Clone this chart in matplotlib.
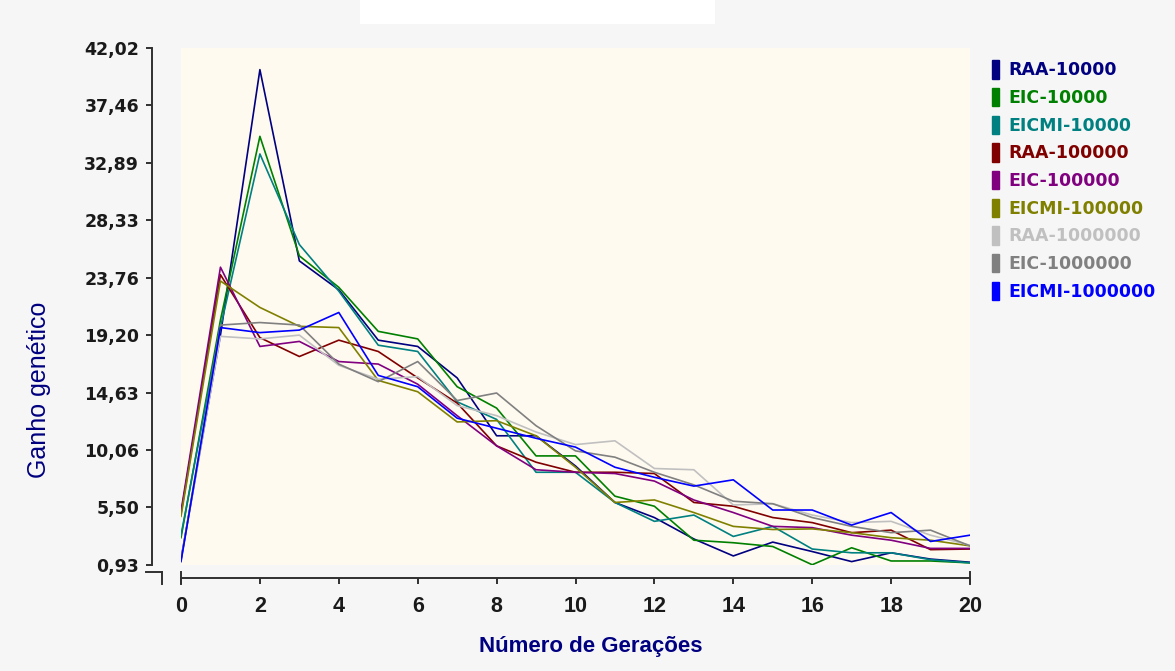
import matplotlib
matplotlib.use("Agg")
import matplotlib.pyplot as plt
from matplotlib.lines import Line2D
from matplotlib.patches import Patch, Rectangle

# ganho genético por geração, uma lista por cenário
geracoes = list(range(21))

raa_10000 = [1.4, 19.2, 40.3, 25.1, 22.8, 18.8, 18.3, 15.8, 11.2, 11.2, 8.8,
             5.9, 4.7, 3.0, 1.65, 2.75, 2.0, 1.2, 1.9, 1.4, 1.15]
eic_10000 = [3.1, 20.4, 35.0, 25.5, 23.0, 19.5, 18.9, 15.1, 13.4, 9.6, 9.6,
             6.4, 5.6, 2.9, 2.7, 2.4, 0.95, 2.3, 1.25, 1.25, 1.1]
eicmi_10000 = [3.3, 19.8, 33.6, 26.4, 22.7, 18.4, 17.9, 13.9, 12.5, 8.3, 8.3,
               5.9, 4.4, 4.9, 3.2, 4.0, 2.2, 1.9, 1.9, 1.35, 1.1]
raa_100000 = [5.0, 24.0, 19.0, 17.5, 18.8, 17.9, 15.8, 13.8, 10.4, 9.1, 8.3,
              8.3, 8.2, 5.9, 5.6, 4.7, 4.3, 3.5, 3.7, 2.15, 2.2]
eic_100000 = [5.2, 24.6, 18.3, 18.7, 17.1, 16.9, 15.3, 12.8, 10.4, 8.5, 8.3,
              8.2, 7.6, 6.1, 5.1, 4.0, 3.9, 3.3, 2.9, 2.25, 2.25]
eicmi_100000 = [4.8, 23.5, 21.4, 19.9, 19.8, 15.6, 14.7, 12.3, 12.4, 11.2, 8.7,
                5.9, 6.1, 5.1, 4.0, 3.75, 3.8, 3.5, 3.1, 2.9, 2.45]
raa_1000000 = [1.3, 19.1, 18.9, 19.2, 16.8, 15.7, 15.9, 13.6, 12.8, 11.5, 10.5,
               10.8, 8.6, 8.5, 5.7, 5.8, 4.9, 4.3, 4.4, 3.3, 2.5]
eic_1000000 = [1.3, 20.0, 20.2, 20.0, 16.9, 15.5, 17.1, 14.0, 14.6, 12.0, 10.0,
               9.5, 8.3, 7.3, 6.0, 5.8, 4.7, 4.0, 3.5, 3.7, 2.45]
eicmi_1000000 = [1.2, 19.8, 19.4, 19.6, 21.0, 16.0, 15.1, 12.6, 11.8, 11.0, 10.3,
                 8.7, 7.9, 7.2, 7.7, 5.3, 5.3, 4.1, 5.1, 2.8, 3.3]

nomes = ["RAA-10000", "EIC-10000", "EICMI-10000",
         "RAA-100000", "EIC-100000", "EICMI-100000",
         "RAA-1000000", "EIC-1000000", "EICMI-1000000"]
valores = [raa_10000, eic_10000, eicmi_10000,
           raa_100000, eic_100000, eicmi_100000,
           raa_1000000, eic_1000000, eicmi_1000000]
cores = ["#000080", "#008000", "#008080",
         "#800000", "#800080", "#808000",
         "#c0c0c0", "#808080", "#0000ff"]

y_ticks = [0.93, 5.50, 10.06, 14.63, 19.20, 23.76, 28.33, 32.89, 37.46, 42.02]
y_labels = ["0,93", "5,50", "10,06", "14,63", "19,20",
            "23,76", "28,33", "32,89", "37,46", "42,02"]
x_ticks = list(range(0, 21, 2))

W, H = 1175, 671
PX = 72 / 100  # pontos por pixel
fig = plt.figure(figsize=(W / 100, H / 100), dpi=100, facecolor="#f6f6f6")

# mancha branca no topo
fig.add_artist(Rectangle((360 / W, 1 - 24 / H), 355 / W, 24 / H,
                         transform=fig.transFigure, color="white", lw=0))

ax = fig.add_axes([181 / W, 1 - 565 / H, (970 - 181) / W, (565 - 48) / H])
ax.set_facecolor("#fffaf0")

for nome, vals, cor in zip(nomes, valores, cores):
    ax.plot(geracoes, vals, color=cor, lw=1.2, label=nome)

ax.set_xlim(0, 20)
ax.set_ylim(0.93, 42.02)

axis_col = "#303030"
for s in ["top", "right"]:
    ax.spines[s].set_visible(False)
ax.spines["left"].set_position(("outward", 29 * PX))
ax.spines["bottom"].set_position(("outward", 13 * PX))
for s in ["left", "bottom"]:
    ax.spines[s].set_color(axis_col)
    ax.spines[s].set_linewidth(1.4)

ax.set_yticks(y_ticks)
ax.set_yticklabels(y_labels)
ax.set_xticks(x_ticks)
ax.set_xticklabels([str(x) for x in x_ticks])
ax.tick_params(axis="both", direction="out", color=axis_col, width=1.4)
ax.tick_params(axis="y", length=6 * PX, pad=5)
ax.tick_params(axis="x", length=6 * PX, pad=9)

for lab in ax.get_yticklabels():
    lab.set_fontfamily("DejaVu Sans")
    lab.set_fontweight("bold")
    lab.set_fontsize(12.5)
    lab.set_color("#1a1a1a")
for lab in ax.get_xticklabels():
    lab.set_fontfamily("Liberation Sans")
    lab.set_fontweight("bold")
    lab.set_fontsize(15.5)
    lab.set_color("#1a1a1a")

ax.set_xlabel("Número de Gerações", color="#000080", fontsize=16,
              fontweight="bold", family="Liberation Sans")
ax.xaxis.set_label_coords((591 - 181) / 789, (565 - 636) / 517)
ax.set_ylabel("Ganho genético", color="#000080", fontsize=18,
              family="Liberation Sans")
ax.yaxis.set_label_coords((51 - 181) / 789, (565 - 390) / 517)

# quebra do eixo no canto inferior esquerdo
def seg(x0, y0, x1, y1):
    fig.add_artist(Line2D([x0 / W, x1 / W], [1 - y0 / H, 1 - y1 / H],
                          transform=fig.transFigure, color=axis_col, lw=1.4))

seg(146, 572, 162, 572)
seg(162, 572, 162, 584)
seg(181, 572, 181, 584)
seg(970, 572, 970, 584)

handles = [Patch(facecolor=c, edgecolor=c) for c in cores]
leg = ax.legend(handles, nomes, loc="upper left", bbox_to_anchor=(1.012, 1.0),
                frameon=False, handlelength=0.45, handleheight=1.25,
                handletextpad=0.5, labelspacing=0.5, borderaxespad=0.3,
                prop={"family": "DejaVu Sans", "weight": "bold", "size": 12.5})
for txt, c in zip(leg.get_texts(), cores):
    txt.set_color(c)

fig.savefig("out.png", dpi=100, facecolor=fig.get_facecolor())
